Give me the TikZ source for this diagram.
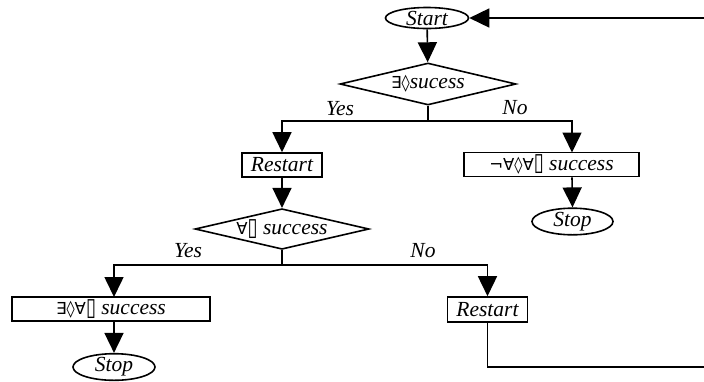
\documentclass[tikz,border=0pt]{standalone}
\usepackage{fontspec}
\usepackage{graphicx}
\setmainfont{Liberation Serif}
\newfontfamily\symf{DejaVu Sans}
\usetikzlibrary{shapes.geometric,arrows.meta}
\newcommand{\sy}[1]{{\upshape\symf\fontsize{16.5}{18}\selectfont #1}}
\newcommand{\bx}{\raisebox{-0.5pt}{\scalebox{1.1}[1.5]{▯}}}
\begin{document}
\begin{tikzpicture}[x=1pt,y=-1pt,
  every node/.style={font=\fontsize{21.5}{24}\selectfont\itshape, inner sep=0pt},
  conn/.style={line width=1.6pt},
  arr/.style={conn, -{Triangle[length=20pt,width=19pt]}},
  term/.style={draw, line width=1.6pt, ellipse, minimum width=83pt, minimum height=21pt},
  proc/.style={draw, line width=1.6pt, rectangle, minimum height=24pt},
  dec/.style={draw, line width=1.6pt, diamond, aspect=4.2, minimum width=176pt, minimum height=42pt},
  lbl/.style={}]
\useasboundingbox (0,0) rectangle (704,381);
% nodes
\node[term] (start) at (427,18) {Start};
\node[dec] (d1) at (428,84) {\sy{∃◊}sucess};
\node[proc, minimum width=80pt] (r1) at (282,165) {Restart};
\node[proc, minimum width=175pt] (neg) at (551.5,164.5) {\sy{¬∀◊∀\bx} success};
\node[term, minimum width=81pt] (stop1) at (572.5,221.5) {Stop};
\node[dec, minimum width=174pt, minimum height=40pt] (d2) at (282,229) {\sy{∀\bx} success};
\node[proc, minimum width=198pt] (b4) at (111,309) {\sy{∃◊∀\bx} success};
\node[term, minimum width=82pt, minimum height=20pt] (stop2) at (114,367) {Stop};
\node[proc, minimum width=80pt, minimum height=25pt] (r2) at (487.5,309.5) {Restart};
% labels
\node[lbl] (yes1) at (340,109) {Yes};
\node[lbl] (no1) at (515,108) {No};
\node[lbl] (yes2) at (188,251) {Yes};
\node[lbl] (no2) at (423,251) {No};
% junctions
\coordinate (j1) at (428,121);
\coordinate (j2) at (282,265);
\coordinate (nt) at (572,152.5);
\coordinate (b4t) at (114,297);
\coordinate (e1) at (704,367);
\coordinate (e2) at (704,18);
% connectors
\draw[arr] (start) -- (d1);
\draw[conn] (d1.south) -- (j1);
\draw[arr] (j1) -| (r1.north);
\draw[arr] (j1) -| (nt);
\draw[arr] (nt |- neg.south) -- (stop1.north);
\draw[arr] (r1) -- (d2);
\draw[conn] (d2.south) -- (j2);
\draw[arr] (j2) -| (b4t);
\draw[arr] (j2) -| (r2.north);
\draw[arr] (b4t |- b4.south) -- (stop2.north);
\draw[conn] (r2.south) |- (e1);
\draw[arr] (e2) -- (start.east);
\end{tikzpicture}
\end{document}
